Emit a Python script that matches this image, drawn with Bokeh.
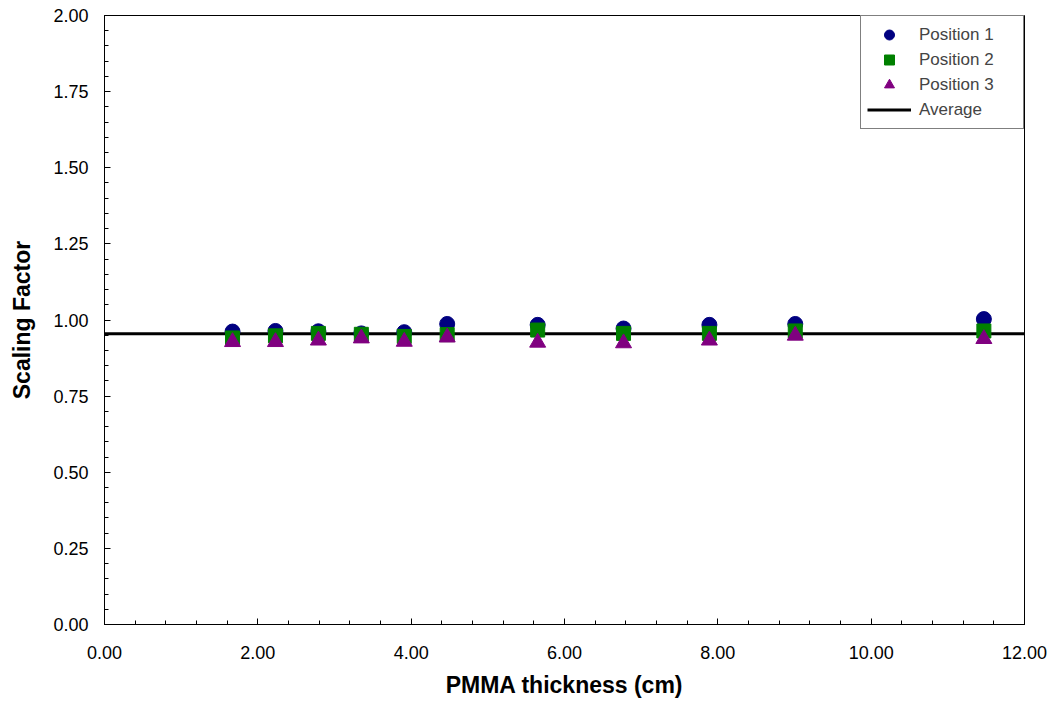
from bokeh.plotting import figure
from bokeh.models import Range1d, FixedTicker, NumeralTickFormatter, Legend, LegendItem
from bokeh.embed import file_html
from bokeh.resources import INLINE

thickness = [1.67, 2.23, 2.79, 3.35, 3.91, 4.47, 5.65, 6.77, 7.89, 9.01, 11.47]
position1 = [0.962, 0.964, 0.963, 0.956, 0.960, 0.987, 0.984, 0.972, 0.984, 0.987, 1.003]
position2 = [0.941, 0.948, 0.956, 0.953, 0.946, 0.952, 0.967, 0.956, 0.956, 0.964, 0.964]
position3 = [0.928, 0.928, 0.933, 0.940, 0.929, 0.943, 0.926, 0.924, 0.933, 0.949, 0.938]
average = 0.955
x_limits = [0.0, 12.0]
x_ticks = [0, 2, 4, 6, 8, 10, 12]
y_ticks = [0, 0.25, 0.5, 0.75, 1.0, 1.25, 1.5, 1.75, 2.0]

FONT = "Liberation Sans"

p = figure(width=1055, height=711, output_backend="svg", toolbar_location=None,
           x_range=Range1d(0, 12), y_range=Range1d(0, 2),
           min_border_left=104, min_border_right=31, min_border_top=15, min_border_bottom=87)
p.xgrid.visible = False
p.ygrid.visible = False
p.outline_line_color = "black"
p.outline_line_width = 1
p.background_fill_color = "white"
p.border_fill_color = "white"

avg_r = p.line(x_limits, [average, average], line_color="black", line_width=3)
c_r = p.scatter(thickness, position1, marker="circle", size=15, fill_color="#000080", line_color="#000080")
s_r = p.scatter(thickness, position2, marker="square", size=14, fill_color="#008000", line_color="#008000")
t_r = p.scatter(thickness, position3, marker="triangle", size=16, fill_color="#800080", line_color="#800080")

for ax in (p.xaxis[0], p.yaxis[0]):
    ax.major_label_text_font = FONT
    ax.major_label_text_font_size = "18px"
    ax.major_label_text_color = "black"
    ax.axis_label_text_font = FONT
    ax.axis_label_text_font_style = "bold"
    ax.axis_label_text_font_size = "23px"
    ax.axis_label_text_color = "black"
    ax.axis_line_color = "black"
    ax.major_tick_in = 6
    ax.major_tick_out = 0
    ax.minor_tick_in = 4
    ax.minor_tick_out = 0
    ax.major_tick_line_color = "black"
    ax.minor_tick_line_color = "black"

p.xaxis.ticker = FixedTicker(ticks=x_ticks, minor_ticks=[i * 0.4 for i in range(31)])
p.yaxis.ticker = FixedTicker(ticks=y_ticks, minor_ticks=[i * 0.05 for i in range(41)])
p.xaxis.formatter = NumeralTickFormatter(format="0.00")
p.yaxis.formatter = NumeralTickFormatter(format="0.00")
p.xaxis.axis_label = "PMMA thickness (cm)"
p.yaxis.axis_label = "Scaling Factor"
p.xaxis.major_label_standoff = 21
p.yaxis.major_label_standoff = 16
p.xaxis.axis_label_standoff = 10
p.yaxis.axis_label_standoff = 15

legend = Legend(items=[
    LegendItem(label="Position 1", renderers=[c_r]),
    LegendItem(label="Position 2", renderers=[s_r]),
    LegendItem(label="Position 3", renderers=[t_r]),
    LegendItem(label="Average", renderers=[avg_r]),
], location="top_right")
legend.margin = 0
legend.padding = 6
legend.spacing = 0
legend.glyph_width = 44
legend.glyph_height = 25
legend.label_height = 25
legend.label_width = 98
legend.label_standoff = 8
legend.label_text_font = FONT
legend.label_text_font_size = "17px"
legend.border_line_color = "black"
legend.border_line_width = 1
legend.background_fill_alpha = 1
p.add_layout(legend)

open("out.html", "w").write(file_html(p, INLINE))
